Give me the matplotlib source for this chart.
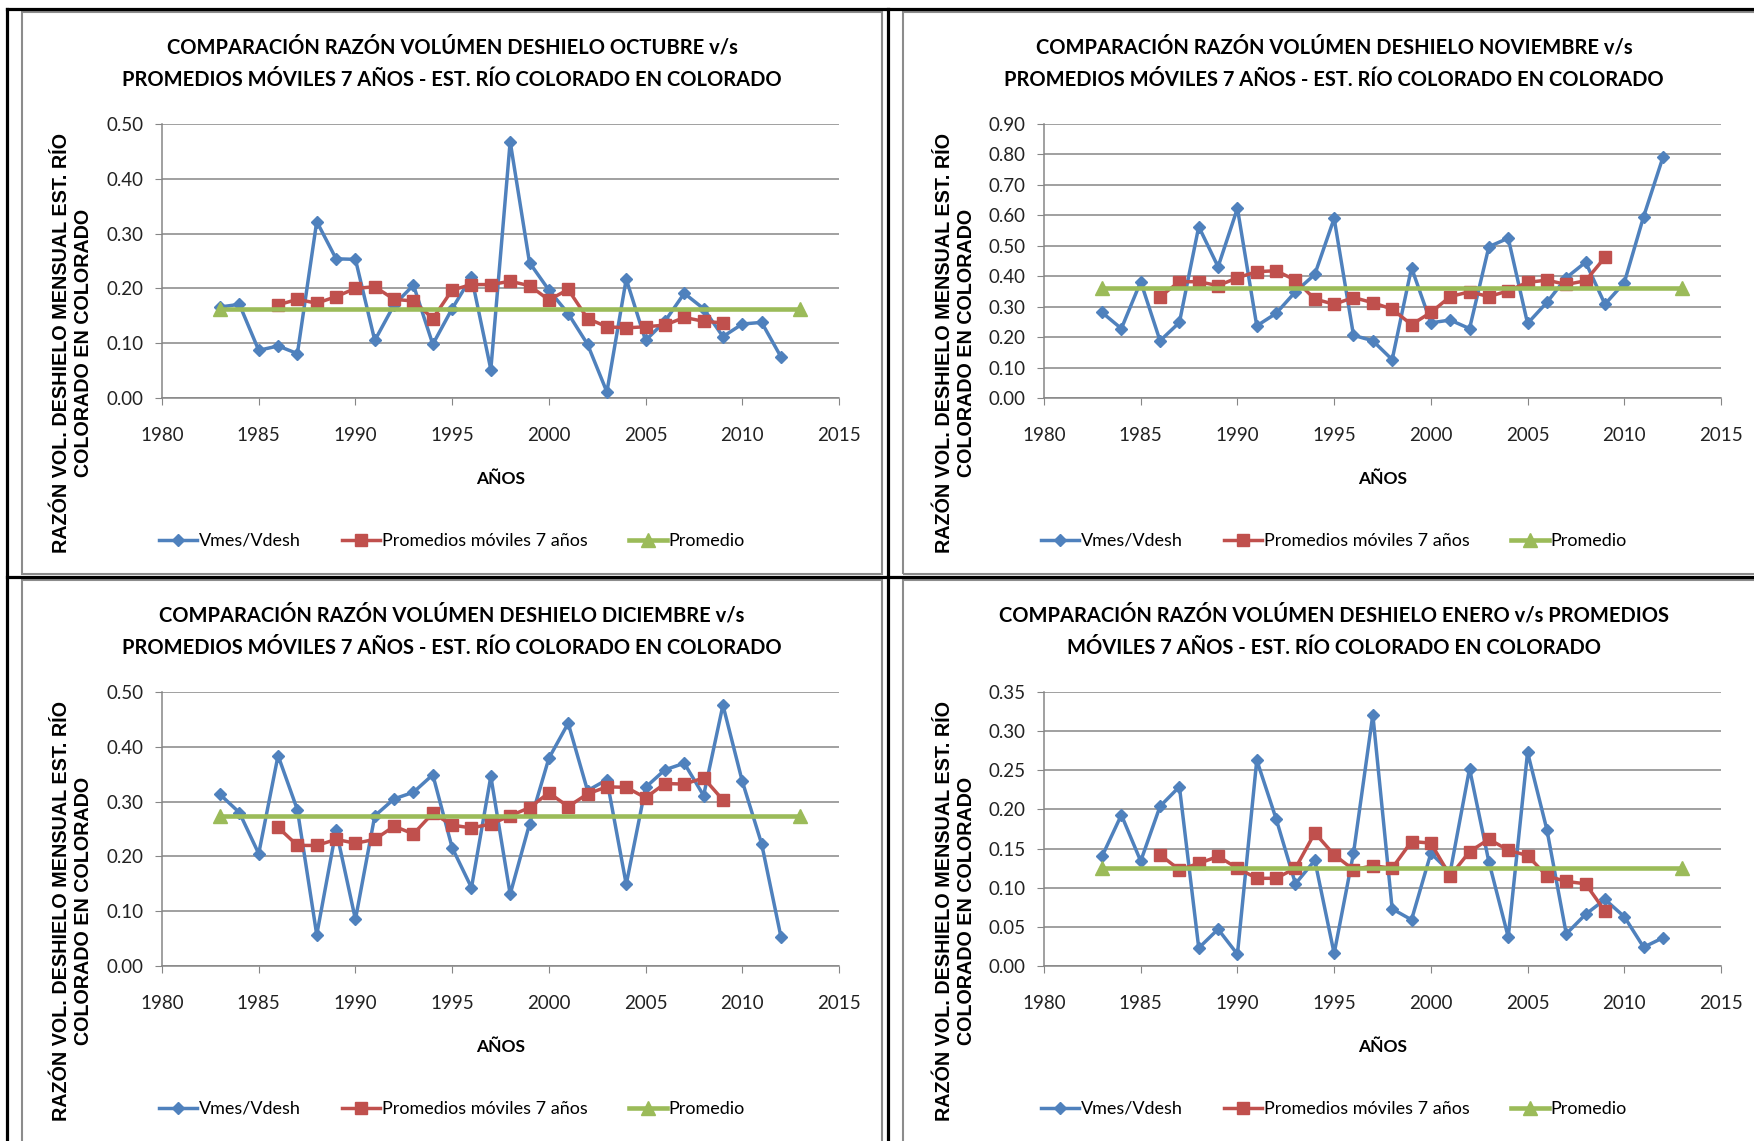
import matplotlib
matplotlib.use("Agg")
import matplotlib.pyplot as plt
from matplotlib.lines import Line2D
from matplotlib.patches import Rectangle

# ---- data ----
years = list(range(1983, 2013))          # Vmes/Vdesh
years_mm = list(range(1986, 2010))       # 7-yr moving average
years_prom = [1983, 2013]                # promedio line ends

oct_ratio = [0.166, 0.171, 0.087, 0.095, 0.081, 0.322, 0.254, 0.253, 0.105, 0.170,
             0.206, 0.098, 0.163, 0.221, 0.052, 0.468, 0.247, 0.197, 0.154, 0.098,
             0.011, 0.217, 0.105, 0.140, 0.191, 0.163, 0.112, 0.135, 0.138, 0.075]
oct_mm = [0.170, 0.180, 0.173, 0.185, 0.200, 0.203, 0.180, 0.177, 0.145, 0.197,
          0.207, 0.207, 0.213, 0.205, 0.179, 0.198, 0.145, 0.130, 0.128, 0.130,
          0.133, 0.147, 0.140, 0.137]
oct_prom = 0.162

nov_ratio = [0.281, 0.228, 0.382, 0.188, 0.248, 0.563, 0.431, 0.623, 0.237, 0.278,
             0.349, 0.406, 0.590, 0.206, 0.188, 0.126, 0.428, 0.247, 0.256, 0.228,
             0.497, 0.525, 0.245, 0.314, 0.395, 0.446, 0.308, 0.379, 0.596, 0.791]
nov_mm = [0.333, 0.382, 0.382, 0.369, 0.395, 0.415, 0.418, 0.387, 0.325, 0.308,
          0.330, 0.313, 0.292, 0.241, 0.281, 0.333, 0.349, 0.333, 0.352, 0.380,
          0.387, 0.373, 0.385, 0.462]
nov_prom = 0.362

dic_ratio = [0.313, 0.280, 0.205, 0.384, 0.285, 0.057, 0.248, 0.085, 0.274, 0.305,
             0.317, 0.349, 0.216, 0.143, 0.346, 0.131, 0.259, 0.379, 0.443, 0.320,
             0.340, 0.149, 0.326, 0.358, 0.370, 0.311, 0.476, 0.337, 0.223, 0.053]
dic_mm = [0.253, 0.220, 0.220, 0.231, 0.224, 0.231, 0.255, 0.241, 0.279, 0.257,
          0.252, 0.259, 0.274, 0.289, 0.316, 0.291, 0.314, 0.327, 0.326, 0.307,
          0.333, 0.332, 0.343, 0.303]
dic_prom = 0.274

ene_ratio = [0.140, 0.193, 0.134, 0.204, 0.229, 0.023, 0.047, 0.015, 0.263, 0.188,
             0.105, 0.135, 0.016, 0.144, 0.321, 0.073, 0.059, 0.144, 0.120, 0.252,
             0.133, 0.037, 0.273, 0.174, 0.041, 0.066, 0.085, 0.063, 0.024, 0.036]
ene_mm = [0.142, 0.123, 0.131, 0.140, 0.125, 0.112, 0.112, 0.125, 0.170, 0.142,
          0.123, 0.128, 0.125, 0.159, 0.157, 0.115, 0.146, 0.162, 0.148, 0.141,
          0.115, 0.108, 0.105, 0.070]
ene_prom = 0.125

titles = [
    ["COMPARACIÓN RAZÓN VOLÚMEN DESHIELO OCTUBRE v/s",
     "PROMEDIOS MÓVILES 7 AÑOS - EST. RÍO COLORADO EN COLORADO"],
    ["COMPARACIÓN RAZÓN VOLÚMEN DESHIELO NOVIEMBRE v/s",
     "PROMEDIOS MÓVILES 7 AÑOS - EST. RÍO COLORADO EN COLORADO"],
    ["COMPARACIÓN RAZÓN VOLÚMEN DESHIELO DICIEMBRE v/s",
     "PROMEDIOS MÓVILES 7 AÑOS - EST. RÍO COLORADO EN COLORADO"],
    ["COMPARACIÓN RAZÓN VOLÚMEN DESHIELO ENERO v/s PROMEDIOS",
     "MÓVILES 7 AÑOS - EST. RÍO COLORADO EN COLORADO"],
]
ylabel1 = "RAZÓN VOL. DESHIELO MENSUAL EST. RÍO"
ylabel2 = "COLORADO EN COLORADO"
xlabel = "AÑOS"
legend_labels = ["Vmes/Vdesh", "Promedios móviles 7 años", "Promedio"]

series = [
    (oct_ratio, oct_mm, oct_prom, 0.5, 0.1),
    (nov_ratio, nov_mm, nov_prom, 0.9, 0.1),
    (dic_ratio, dic_mm, dic_prom, 0.5, 0.1),
    (ene_ratio, ene_mm, ene_prom, 0.35, 0.05),
]

BLUE = "#4F81BD"
RED = "#C0504D"
GREEN = "#9BBB59"
GRID = "#868686"

W, H = 1754, 1141
CAL = ["Lato", "DejaVu Sans"]
ARIAL = ["Liberation Sans", "DejaVu Sans"]


def fx(x):
    return x / W


def fy(y):
    return 1 - y / H


fig = plt.figure(figsize=(W / 100, H / 100), dpi=100)

# panel origins (px): x offset of chart, y offset
offsets = [(0, 0), (882, 0), (0, 568), (882, 568)]

for i, (ratio, mm, prom, ytop, ystep) in enumerate(series):
    dx, dy = offsets[i]
    L, R = 162 + dx, 839 + dx
    T, B = 124 + dy, 398 + dy
    ax = fig.add_axes([fx(L), fy(B), (R - L) / W, (B - T) / H])

    ax.plot(years, ratio, color=BLUE, lw=2.5, marker="D", ms=6.5, zorder=3)
    ax.plot(years_mm, mm, color=RED, lw=2.5, marker="s", ms=8.5, zorder=4)
    ax.plot(years_prom, [prom, prom], color=GREEN, lw=3.3, marker="^", ms=10, zorder=5)

    ax.set_xlim(1980, 2015)
    ax.set_xticks(range(1980, 2016, 5))
    nt = int(round(ytop / ystep))
    yt = [k * ystep for k in range(nt + 1)]
    ax.set_ylim(0, ytop)
    ax.set_yticks(yt)
    ax.set_yticklabels(["%.2f" % v for v in yt])
    ax.grid(axis="y", color=GRID, lw=1.1)
    ax.set_axisbelow(True)
    for s in ["top", "right"]:
        ax.spines[s].set_visible(False)
    for s in ["left", "bottom"]:
        ax.spines[s].set_color(GRID)
        ax.spines[s].set_linewidth(1.1)
    ax.tick_params(axis="x", direction="out", length=5, color=GRID, pad=16, labelsize=13.5,
                   labelcolor="#222222")
    ax.tick_params(axis="y", direction="out", length=5, color=GRID, pad=8, labelsize=13.5,
                   labelcolor="#222222")
    for lab in ax.get_xticklabels() + ax.get_yticklabels():
        lab.set_family(CAL)

    cx = 452 + dx
    fig.text(fx(cx), fy(47 + dy), titles[i][0], ha="center", va="center",
             fontsize=14.5, fontweight="bold", family=CAL)
    fig.text(fx(cx), fy(80 + dy), titles[i][1], ha="center", va="center",
             fontsize=14.5, fontweight="bold", family=CAL)
    fig.text(fx(501 + dx), fy(479 + dy), xlabel, ha="center", va="center",
             fontsize=12.5, fontweight="bold", family=CAL)
    fig.text(fx(62 + dx), fy(343 + dy), ylabel1, ha="center", va="center", rotation=90,
             fontsize=14.2, fontweight="bold", family=ARIAL)
    fig.text(fx(84 + dx), fy(343 + dy), ylabel2, ha="center", va="center", rotation=90,
             fontsize=14.2, fontweight="bold", family=ARIAL)

    handles = [
        Line2D([], [], color=BLUE, lw=2.5, marker="D", ms=6.5),
        Line2D([], [], color=RED, lw=2.5, marker="s", ms=8.5),
        Line2D([], [], color=GREEN, lw=3.3, marker="^", ms=10),
    ]
    fig.legend(handles, legend_labels, loc="center", ncol=3,
               bbox_to_anchor=(fx(452 + dx), fy(541 + dy)), frameon=False,
               prop={"family": CAL, "size": 13}, handlelength=2.1,
               handletextpad=0.1, columnspacing=2.3, numpoints=1)

# chart frames (gray) and sheet separators (black)
for (x0, y0, x1, y1) in [(22, 12, 882, 574), (903, 12, 1770, 574),
                         (22, 580, 882, 1160), (903, 580, 1770, 1160)]:
    fig.patches.append(Rectangle((fx(x0), fy(y1)), (x1 - x0) / W, (y1 - y0) / H,
                                 transform=fig.transFigure, fill=False,
                                 ec="#8c8c8c", lw=1.5))
for (x0, y0, x1, y1) in [(7, 9, 1754, 9), (7, 9, 7, 1141), (888, 9, 888, 1141),
                         (7, 577, 1754, 577)]:
    fig.lines.append(Line2D([fx(x0), fx(x1)], [fy(y0), fy(y1)],
                            transform=fig.transFigure, color="black", lw=2.3))

fig.savefig("out.png", dpi=100, facecolor="white")
